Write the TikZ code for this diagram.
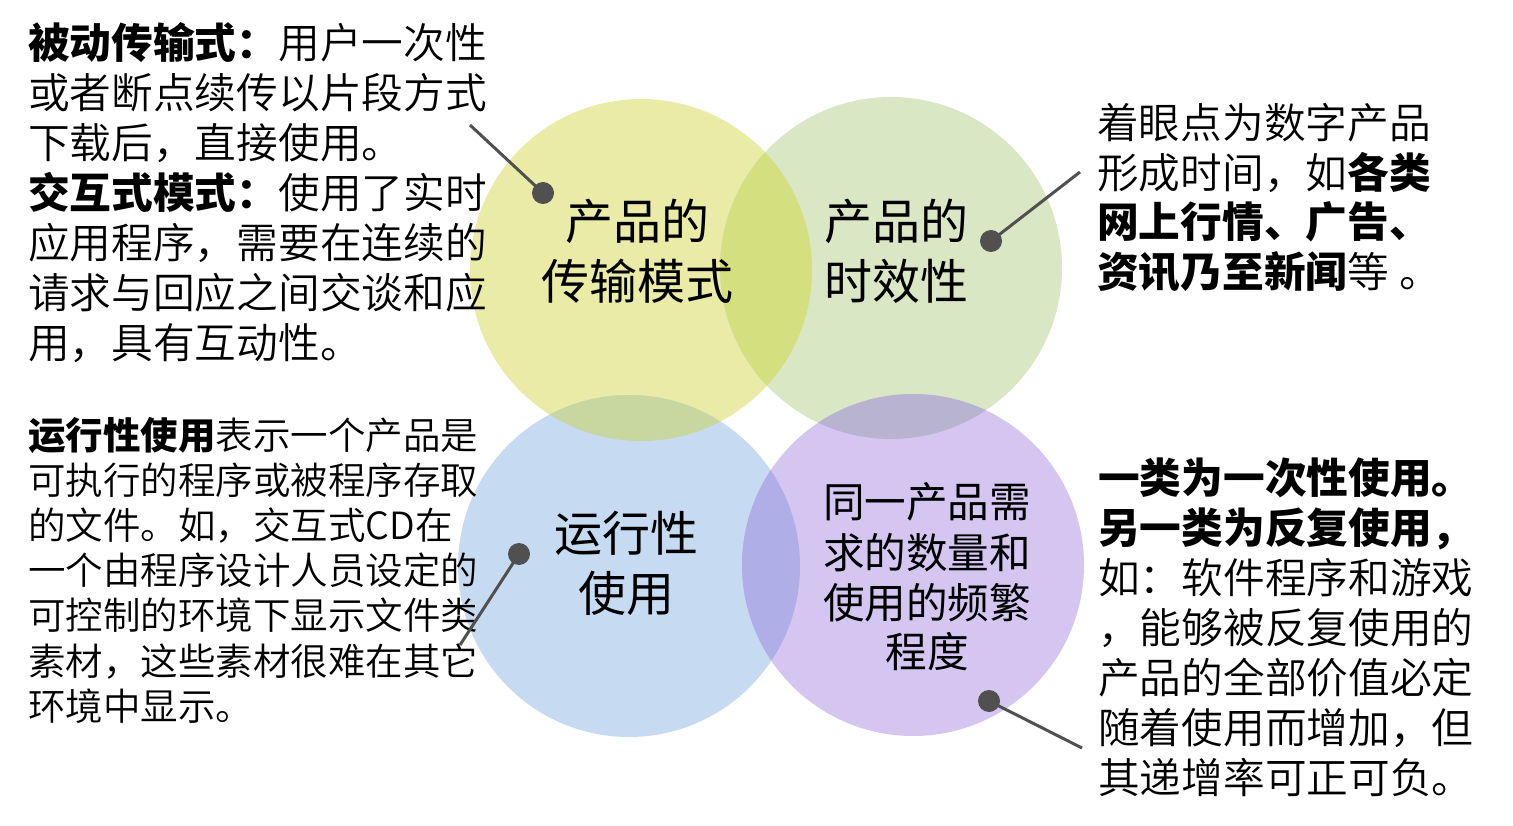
\documentclass[tikz,border=0pt]{standalone}
\usepackage{fontspec}
\setmainfont{Noto Sans CJK SC}[UprightFont=* DemiLight, BoldFont=* Black]
\newfontfamily\lblfont{Noto Sans CJK SC}
\definecolor{cyel}{HTML}{EAEBA6}
\definecolor{cgrn}{HTML}{D9E7C5}
\definecolor{cblu}{HTML}{C6DBF1}
\definecolor{cpur}{HTML}{D5C6F1}
\definecolor{lyg}{HTML}{D4DF80}
\definecolor{lyb}{HTML}{C8D6A0}
\definecolor{lgp}{HTML}{B8B4D0}
\definecolor{lbp}{HTML}{AFAEE6}
\definecolor{cline}{HTML}{505050}
\tikzset{
  txtA/.style={anchor=base west, inner sep=0pt, font=\fontsize{41.7}{50}\selectfont},
  txtB/.style={anchor=base west, inner sep=0pt, font=\fontsize{37.5}{45}\selectfont},
  lblA/.style={anchor=base, inner sep=0pt, font=\lblfont\fontsize{48}{60}\selectfont},
  lblB/.style={anchor=base, inner sep=0pt, font=\lblfont\fontsize{41.6}{50}\selectfont},
  dotnode/.style={circle, fill=cline, minimum size=22pt, inner sep=0pt},
  conn/.style={draw=cline, line width=3pt},
}
\begin{document}
\begin{tikzpicture}[x=1pt,y=-1pt]
\useasboundingbox (0,0) rectangle (1513,826);
% circles
\fill[cyel] (641,270) circle[radius=171];
\fill[cgrn] (891,268) circle[radius=171];
\fill[cblu] (629,566) circle[radius=171];
\fill[cpur] (913,565) circle[radius=171];
\begin{scope}
  \clip (641,270) circle[radius=171];
  \fill[lyg] (891,268) circle[radius=171];
  \fill[lyb] (629,566) circle[radius=171];
\end{scope}
\begin{scope}
  \clip (913,565) circle[radius=171];
  \fill[lgp] (891,268) circle[radius=171];
  \fill[lbp] (629,566) circle[radius=171];
\end{scope}
% circle labels
\node[lblA] (y1) at (637,240) {产品的};
\node[lblA] (y2) at (637,300) {传输模式};
\node[lblA] (g1) at (896,240) {产品的};
\node[lblA] (g2) at (896,300) {时效性};
\node[lblA] (b1) at (626,551) {运行性};
\node[lblA] (b2) at (626,611) {使用};
\node[lblB] (p1) at (927,517) {同一产品需};
\node[lblB] (p2) at (927,568) {求的数量和};
\node[lblB] (p3) at (927,618) {使用的频繁};
\node[lblB] (p4) at (927,667) {程度};
% left top text
\node[txtA] (lt1) at (28,59) {\textbf{被动传输式：}用户一次性};
\node[txtA] (lt2) at (28,109) {或者断点续传以片段方式};
\node[txtA] (lt3) at (28,159) {下载后，直接使用。};
\node[txtA] (lt4) at (28,209) {\textbf{交互式模式：}使用了实时};
\node[txtA] (lt5) at (28,259) {应用程序，需要在连续的};
\node[txtA] (lt6) at (28,309) {请求与回应之间交谈和应};
\node[txtA] (lt7) at (28,359) {用，具有互动性。};
% left bottom text
\node[txtB] (lb1) at (28,449) {\textbf{运行性使用}表示一个产品是};
\node[txtB] (lb2) at (28,494.2) {可执行的程序或被程序存取};
\node[txtB] (lb3) at (28,539.4) {的文件。如，交互式CD在};
\node[txtB] (lb4) at (28,584.6) {一个由程序设计人员设定的};
\node[txtB] (lb5) at (28,629.8) {可控制的环境下显示文件类};
\node[txtB] (lb6) at (28,675) {素材，这些素材很难在其它};
\node[txtB] (lb7) at (28,720.2) {环境中显示。};
% right top text
\node[txtA] (rt1) at (1097,139) {着眼点为数字产品};
\node[txtA] (rt2) at (1097,188.5) {形成时间，如\textbf{各类}};
\node[txtA] (rt3) at (1097,238) {\textbf{网上行情、广告、}};
\node[txtA] (rt4) at (1097,287.5) {\textbf{资讯乃至新闻}等\hspace{10pt}。};
% right bottom text
\node[txtA] (rb1) at (1098,493) {\textbf{一类为一次性使用。}};
\node[txtA] (rb2) at (1098,543) {\textbf{另一类为反复使用，}};
\node[txtA] (rb3) at (1098,593) {如：软件程序和游戏};
\node[txtA] (rb4) at (1098,643) {，能够被反复使用的};
\node[txtA] (rb5) at (1098,693) {产品的全部价值必定};
\node[txtA] (rb6) at (1098,743) {随着使用而增加，但};
\node[txtA] (rb7) at (1098,793) {其递增率可正可负。};
% connectors
\coordinate (e1) at (470,125);
\coordinate (e2) at (1080,172);
\coordinate (e3) at (460,645);
\coordinate (e4) at (1082,748);
\node[dotnode] (d1) at (543,193) {};
\node[dotnode] (d2) at (991,241) {};
\node[dotnode] (d3) at (519,554) {};
\node[dotnode] (d4) at (989,701) {};
\draw[conn] (e1) -- (d1.center);
\draw[conn] (e2) -- (d2.center);
\draw[conn] (d3.center) -- (e3);
\draw[conn] (d4.center) -- (e4);
\end{tikzpicture}
\end{document}
